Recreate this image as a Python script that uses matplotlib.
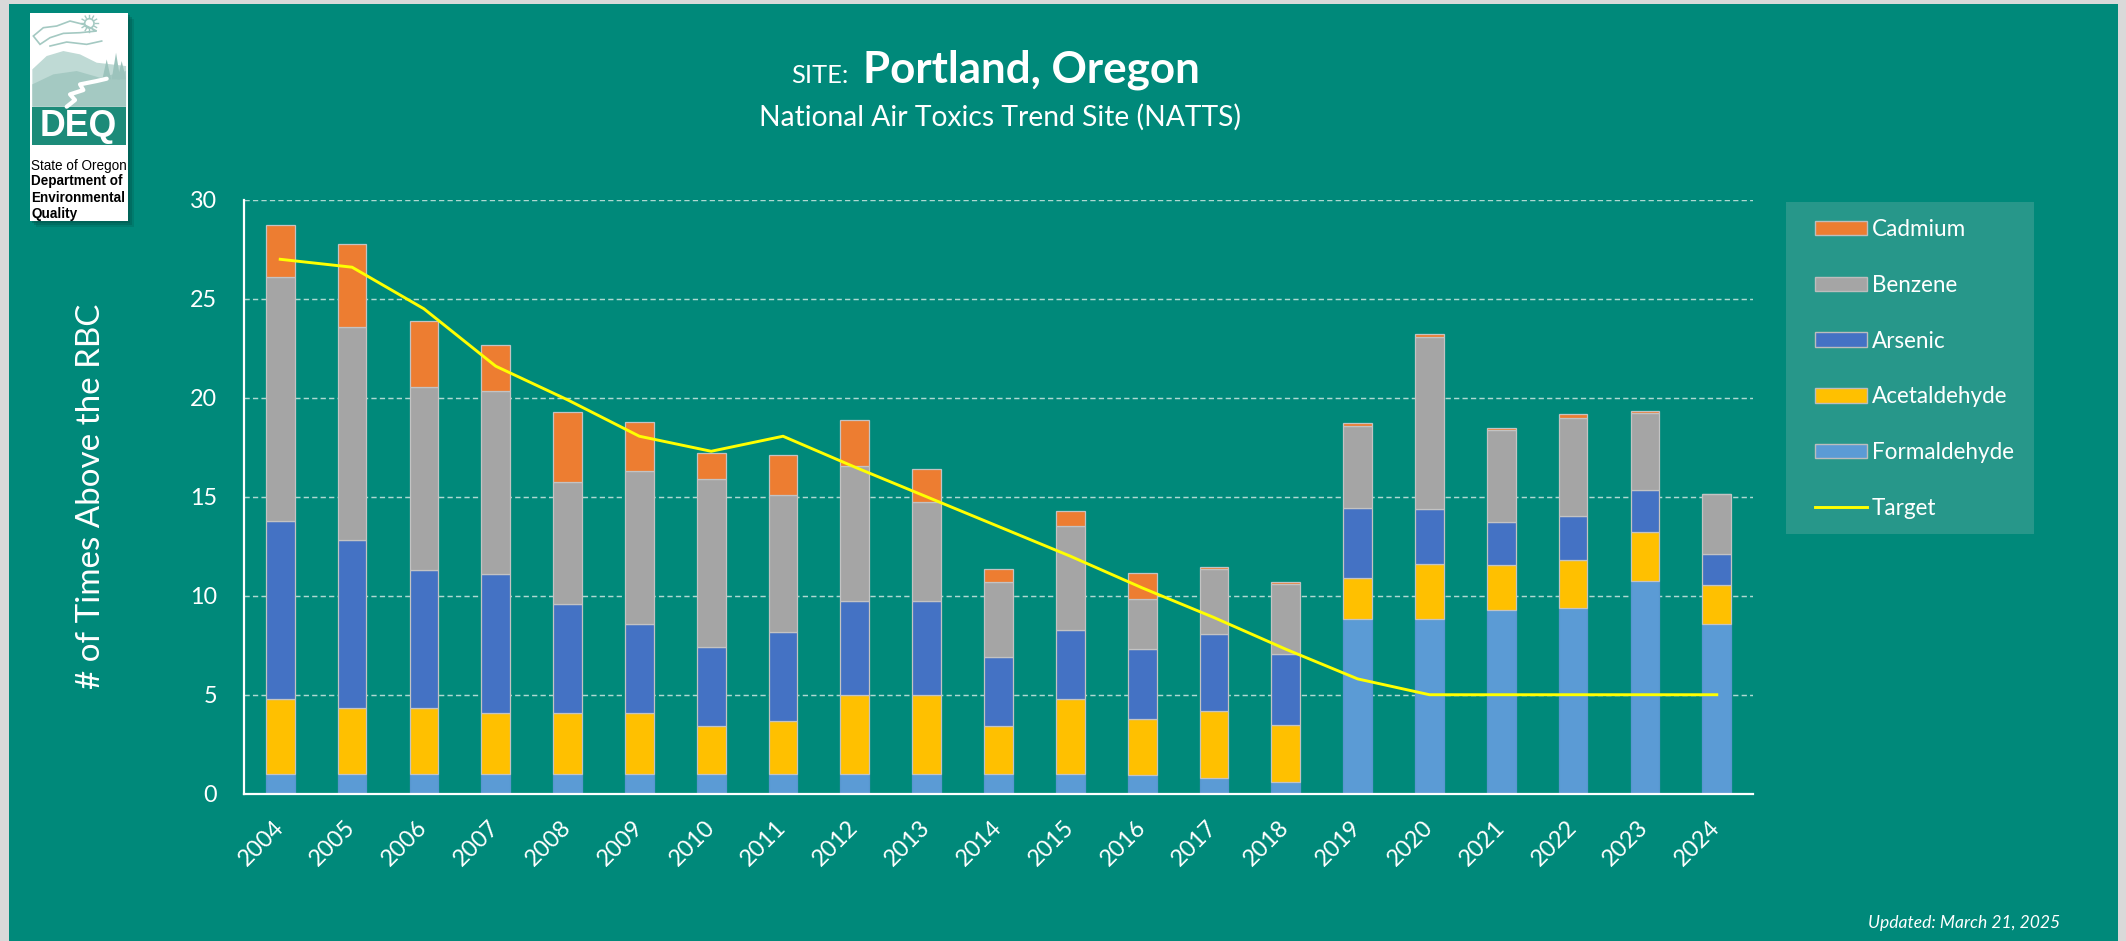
import matplotlib
matplotlib.use('Agg')
import matplotlib.pyplot as plt
from matplotlib.patches import Rectangle, Polygon, Circle, Patch
from matplotlib.lines import Line2D
import numpy as np

# ---------------- data ----------------
years = [str(y) for y in range(2004, 2025)]
formaldehyde = [1.0, 1.0, 1.0, 1.0, 1.0, 1.0, 1.0, 1.0, 1.0, 1.0, 1.0, 1.0, 0.96, 0.78, 0.60,
                8.81, 8.83, 9.29, 9.37, 10.73, 8.59]
acetaldehyde = [3.77, 3.31, 3.31, 3.10, 3.10, 3.10, 2.44, 2.68, 3.99, 3.99, 2.40, 3.79, 2.80, 3.39, 2.86,
                2.10, 2.78, 2.28, 2.44, 2.49, 1.94]
arsenic = [8.99, 8.49, 6.98, 6.99, 5.47, 4.49, 3.95, 4.47, 4.74, 4.74, 3.49, 3.50, 3.55, 3.92, 3.59,
           3.53, 2.77, 2.15, 2.21, 2.12, 1.60]
benzene = [12.33, 10.79, 9.27, 9.23, 6.17, 7.69, 8.51, 6.93, 6.85, 5.03, 3.80, 5.21, 2.52, 3.26, 3.52,
           4.14, 8.71, 4.66, 4.94, 3.90, 3.03]
cadmium = [2.66, 4.16, 3.31, 2.35, 3.52, 2.52, 1.32, 2.02, 2.28, 1.66, 0.68, 0.80, 1.30, 0.12, 0.14,
           0.14, 0.14, 0.10, 0.20, 0.12, 0.0]
target = [27.0, 26.6, 24.5, 21.6, 19.9, 18.06, 17.3, 18.06, 16.5, 15.0, 13.5, 12.0, 10.4, 8.9, 7.3,
          5.8, 5.0, 5.0, 5.0, 5.0, 5.0]
yticks = [0, 5, 10, 15, 20, 25, 30]

stack_names = ['Formaldehyde', 'Acetaldehyde', 'Arsenic', 'Benzene', 'Cadmium']
stack_values = [formaldehyde, acetaldehyde, arsenic, benzene, cadmium]
stack_colors = ['#5B9BD5', '#FFC000', '#4472C4', '#A5A5A5', '#ED7D31']
legend_order = ['Cadmium', 'Benzene', 'Arsenic', 'Acetaldehyde', 'Formaldehyde']

TEAL = '#00897A'
LEG_BG = '#27978A'
W, H, DPI = 2126, 941, 100

plt.rcParams['font.family'] = ['Lato', 'DejaVu Sans']

fig = plt.figure(figsize=(W / DPI, H / DPI), dpi=DPI)
fig.patch.set_facecolor('#D9D9D9')
renderer = fig.canvas.get_renderer()


def fx(px):
    return px / W


def fy(py):
    return 1 - py / H


def fit(s, target_px, **kw):
    t = fig.text(0, 0, s, fontsize=20, **kw)
    w = t.get_window_extent(renderer).width
    t.remove()
    return 20 * target_px / w


# teal panel
fig.add_artist(Rectangle((fx(9), 0), fx(2118) - fx(9), fy(4), transform=fig.transFigure,
                         facecolor=TEAL, edgecolor='none', zorder=0))

# ---------------- main axes ----------------
L, R, T, B = 244.3, 1752.7, 199.9, 793.7
ax = fig.add_axes([fx(L), fy(B), fx(R) - fx(L), (B - T) / H])
ax.set_facecolor('none')
x = np.arange(len(years))
bottom = np.zeros(len(years))
for name, vals, col in zip(stack_names, stack_values, stack_colors):
    vals = np.array(vals)
    ec = '#5896CF' if name == 'Formaldehyde' else '#C3C3C3'
    ax.bar(x, vals, width=0.4, bottom=bottom, color=col, edgecolor=ec, linewidth=0.9,
           label=name, zorder=2)
    bottom = bottom + vals
ax.plot(x, target, color='#FFFF00', linewidth=2.1, zorder=4, label='Target', solid_joinstyle='round')

ax.set_xlim(-0.5, len(years) - 0.5)
ax.set_ylim(0, 30)
ax.set_yticks(yticks)
fs_tick = fit('30', 27)
ax.set_yticklabels([str(v) for v in yticks], color='white', fontsize=fs_tick)
ax.set_xticks(x)
ax.set_xticklabels(years, rotation=45, ha='right', va='center', rotation_mode='anchor',
                   color='white', fontsize=fs_tick)
ax.tick_params(axis='y', length=0, pad=27 * 72 / DPI)
ax.tick_params(axis='x', length=0, pad=30 * 72 / DPI)
ax.yaxis.grid(True, color='#AFD9D2', linestyle=(0, (3.6, 2.2)), linewidth=1.05)
ax.set_axisbelow(True)
for s in ['top', 'right']:
    ax.spines[s].set_visible(False)
for s in ['left', 'bottom']:
    ax.spines[s].set_color('white')
    ax.spines[s].set_linewidth(1.6)
    ax.spines[s].set_zorder(3)

# ---------------- legend ----------------
fig.add_artist(Rectangle((fx(1786), fy(534)), fx(2034) - fx(1786), (534 - 202) / H,
                         transform=fig.transFigure, facecolor=LEG_BG, edgecolor='none', zorder=1))
fs_leg = fit('Acetaldehyde', 136)
px_leg = fs_leg * DPI / 72
col_of = dict(zip(stack_names, stack_colors))
handles = [Patch(facecolor=col_of[n], edgecolor='#BDBDBD', linewidth=1.0) for n in legend_order]
handles.append(Line2D([], [], color='#FFFF00', linewidth=2.1))
labels = legend_order + ['Target']
leg = fig.legend(handles, labels, loc='upper left', bbox_to_anchor=(fx(1815), fy(219)),
                 bbox_transform=fig.transFigure, frameon=False, borderpad=0, borderaxespad=0,
                 handlelength=52 / px_leg, handleheight=14 / px_leg, handletextpad=0.22,
                 labelspacing=(55.3 - 1.2 * px_leg + 6.5) / px_leg, fontsize=fs_leg,
                 labelcolor='white')
leg.set_zorder(5)

# ---------------- titles ----------------
fs_site = fit('SITE:', 57)
fs_title = fit('Portland, Oregon', 337, fontweight='bold')
fig.text(fx(791), fy(83), 'SITE:', fontsize=fs_site, color='white', ha='left', va='baseline')
fig.text(fx(862.6), fy(83), 'Portland, Oregon', fontsize=fs_title, fontweight='bold', color='white',
         ha='left', va='baseline')
fs_sub = fit('National Air Toxics Trend Site (NATTS)', 482)
fig.text(fx(1000), fy(126), 'National Air Toxics Trend Site (NATTS)', fontsize=fs_sub, color='white',
         ha='center', va='baseline')
fs_yl = fit('# of Times Above the RBC', 385)
fig.text(fx(91), fy(496), '# of Times Above the RBC', fontsize=fs_yl, color='white', rotation=90,
         ha='center', va='center')
fs_up = fit('Updated: March 21, 2025', 192, fontstyle='italic')
fig.text(fx(1868), fy(928), 'Updated: March 21, 2025', fontsize=fs_up, fontstyle='italic', color='white',
         ha='left', va='baseline')

# ---------------- logo ----------------
for off, a in [(6, 0.25), (4, 0.35), (2, 0.45)]:
    fig.add_artist(Rectangle((fx(30 + off), fy(220.7 + off)), (127.7 - 30) / W, (220.7 - 12.7) / H,
                             transform=fig.transFigure, facecolor='#00564C', edgecolor='none',
                             alpha=a, zorder=6))
axl = fig.add_axes([fx(30), fy(220.7), (127.7 - 30) / W, (220.7 - 12.7) / H], zorder=7)
axl.set_xlim(0, 293)
axl.set_ylim(624, 0)
axl.axis('off')
axl.add_patch(Rectangle((0, 0), 293, 624, facecolor='white', edgecolor='none'))
light = '#BFDAD5'
mid = '#A4C9C2'
# sun
axl.add_patch(Circle((178, 32), 14, facecolor='white', edgecolor=mid, linewidth=1.2))
for ang in np.linspace(0, 2 * np.pi, 12, endpoint=False):
    axl.plot([178 + 18 * np.cos(ang), 178 + 25 * np.cos(ang)],
             [32 + 18 * np.sin(ang), 32 + 25 * np.sin(ang)], color=mid, linewidth=1)
# clouds
axl.add_patch(Polygon([(10, 70), (40, 45), (80, 40), (120, 25), (160, 35), (200, 55), (150, 60),
                       (100, 62), (60, 75), (30, 95)], closed=True, facecolor='none',
                      edgecolor=mid, linewidth=1.2))
axl.plot([60, 110, 170, 215], [100, 88, 95, 85], color=mid, linewidth=1.2)
# hills
axl.add_patch(Polygon([(7, 170), (50, 130), (100, 115), (150, 125), (200, 150), (288, 160),
                       (288, 282), (7, 282)], closed=True, facecolor=light, edgecolor='none'))
axl.add_patch(Polygon([(7, 215), (70, 185), (140, 175), (210, 195), (288, 175), (288, 282),
                       (7, 282)], closed=True, facecolor=mid, edgecolor='none'))
# trees
for tx, th in [(230, 60), (258, 80), (275, 55)]:
    axl.add_patch(Polygon([(tx - 13, 200), (tx + 13, 200), (tx, 200 - th)], closed=True,
                          facecolor='#9CC3BC', edgecolor='none'))
# river
axl.plot([110, 135, 120, 160, 150, 200, 230], [282, 262, 245, 232, 215, 205, 198], color='white',
         linewidth=3, solid_capstyle='round')
# DEQ band
axl.add_patch(Rectangle((7, 282), 281, 115, facecolor='#1C8B79', edgecolor='none'))
axl.text(146, 342, 'DEQ', color='white', fontsize=fit('DEQ', 77, fontweight='bold',
                                                       family='Liberation Sans'),
         fontweight='bold', family='Liberation Sans', ha='center', va='center')
fs_logo = fit('Environmental', 94, fontweight='bold', family='Liberation Sans')
axl.text(3, 460, 'State of Oregon', color='black', fontsize=fs_logo, family='Liberation Sans',
         ha='left', va='center')
for ty, s in [(506, 'Department of'), (555, 'Environmental'), (603, 'Quality')]:
    axl.text(3, ty, s, color='black', fontsize=fs_logo, fontweight='bold', family='Liberation Sans',
             ha='left', va='center')

fig.savefig('out.png', dpi=DPI, facecolor=fig.get_facecolor())
